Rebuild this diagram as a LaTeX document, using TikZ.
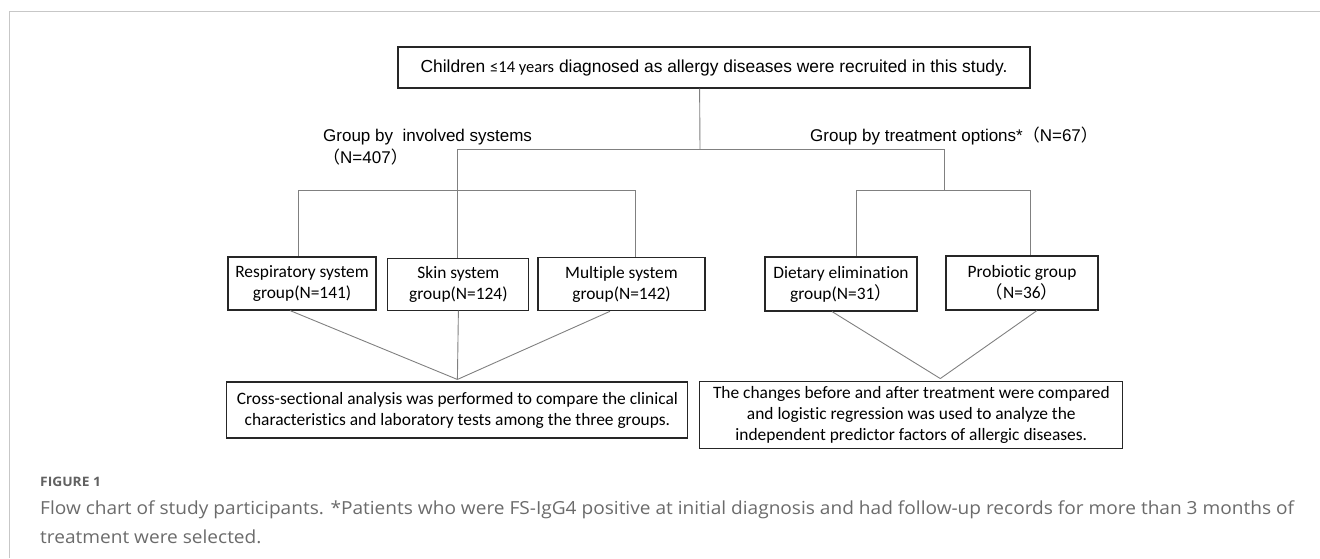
\documentclass[tikz,border=0pt]{standalone}
\usepackage{fontspec}
\setmainfont[Ligatures=NoCommon]{Carlito}
\newfontfamily\arialf{Liberation Sans}
\newfontfamily\capf[FakeStretch=1.06]{Open Sans}
\newfontfamily\cjk{Noto Sans CJK SC}
\usetikzlibrary{calc,positioning}

\begin{document}
\begin{tikzpicture}[
    x=1pt,y=-1pt,
    box/.style={draw=black!85,line width=1.1pt,inner sep=0pt,align=center,font=\fontsize{17.4}{21}\selectfont},
    lbl/.style={inner sep=0pt,font=\arialf\fontsize{17}{22}\selectfont},
    ln/.style={line width=.9pt,black!50},
    frm/.style={line width=1.5pt,black!22}
  ]
    \useasboundingbox (0,0) rectangle (1320,558);
    \draw[frm] (9.5,558) -- (9.5,11.5) -- (1320,11.5);
    % boxes
    \node[box,minimum width=632,minimum height=41,font=\arialf\fontsize{17.4}{21}\selectfont] (top) at (714,67.5)
      {Children {\rmfamily\fontsize{16.5}{17}\selectfont ≤14 years} diagnosed as allergy diseases were recruited in this study.};
    \node[box,minimum width=148,minimum height=53] (resp) at (302,283.5) {Respiratory system\\group(N=141)};
    \node[box,minimum width=141,minimum height=51.5] (skin) at (458.4,284.4) {Skin system\\group(N=124)};
    \node[box,minimum width=167,minimum height=53.5] (mult) at (621.5,284) {Multiple system\\group(N=142)};
    \node[box,minimum width=152,minimum height=54] (diet) at (841,284) {Dietary elimination\\group(N=31{\cjk ）}};
    \node[box,minimum width=152,minimum height=54] (prob) at (1022,283) {Probiotic group\\{\cjk （}N=36{\cjk ）}};
    \node[box,minimum width=461,minimum height=56] (cross) at (457.4,410)
      {Cross-sectional analysis was performed to compare the clinical\\characteristics and laboratory tests among the three groups.};
    \node[box,minimum width=423,minimum height=67] (chg) at (911.3,414.6)
      {The changes before and after treatment were compared\\and logistic regression was used to analyze the\\independent predictor factors of allergic diseases.};
    % group labels
    \node[lbl,anchor=north west,align=left] (gsys) at (323,129) {Group by\ \ involved systems\\{\cjk （}N=407{\cjk ）}};
    \node[lbl,anchor=base west] (gtrt) at (810,141) {Group by treatment options*{\cjk （}N=67{\cjk ）}};
    % junctions
    \coordinate (j0) at (700,149);
    \coordinate (jL) at (457,149); \coordinate (jR) at (944.5,149);
    \coordinate (bL1) at (298,190); \coordinate (bL2) at (635,190);
    \coordinate (bR1) at (856.7,190); \coordinate (bR2) at (1030,190);
    \coordinate (apx) at ($(chg.north)+(29,-2)$);
    \draw[ln] ($(top.south)+(-14.4,0)$) -- (j0);
    \draw[ln] (jL) -- (jR);
    \draw[ln] (jL) -- (jL |- skin.north);
    \draw[ln] (jR) -- (bR1 -| jR);
    \draw[ln] (bL1) -- (bL2); \draw[ln] (bR1) -- (bR2);
    \foreach \b/\n in {bL1/resp,bL2/mult,bR1/diet,bR2/prob} {\draw[ln] (\b) -- (\b |- \n.north);}
    \draw[ln] ($(resp.south)+(-12,0)$) -- ($(cross.north)+(0,-2)$);
    \draw[ln] (skin.south) -- ($(cross.north)+(0,-2)$);
    \draw[ln] ($(mult.south)+(-11.5,0)$) -- ($(cross.north)+(0,-2)$);
    \draw[ln] ($(diet.south)+(-9,0)$) -- (apx);
    \draw[ln] ($(prob.south)+(15,0)$) -- (apx);
    % caption
    \node[anchor=base west,inner sep=0pt,font=\capf\bfseries\fontsize{13}{15}\selectfont,text=black!62] (fig) at (40,486) {FIGURE 1};
    \node[anchor=north west,inner sep=0pt,align=left,font=\capf\fontsize{18}{29}\selectfont,text=black!58] (cap) at (40,501)
      {Flow chart of study participants. *Patients who were FS-IgG4 positive at initial diagnosis and had follow-up records for more than 3 months of\\treatment were selected.};
  \end{tikzpicture}
\end{document}
